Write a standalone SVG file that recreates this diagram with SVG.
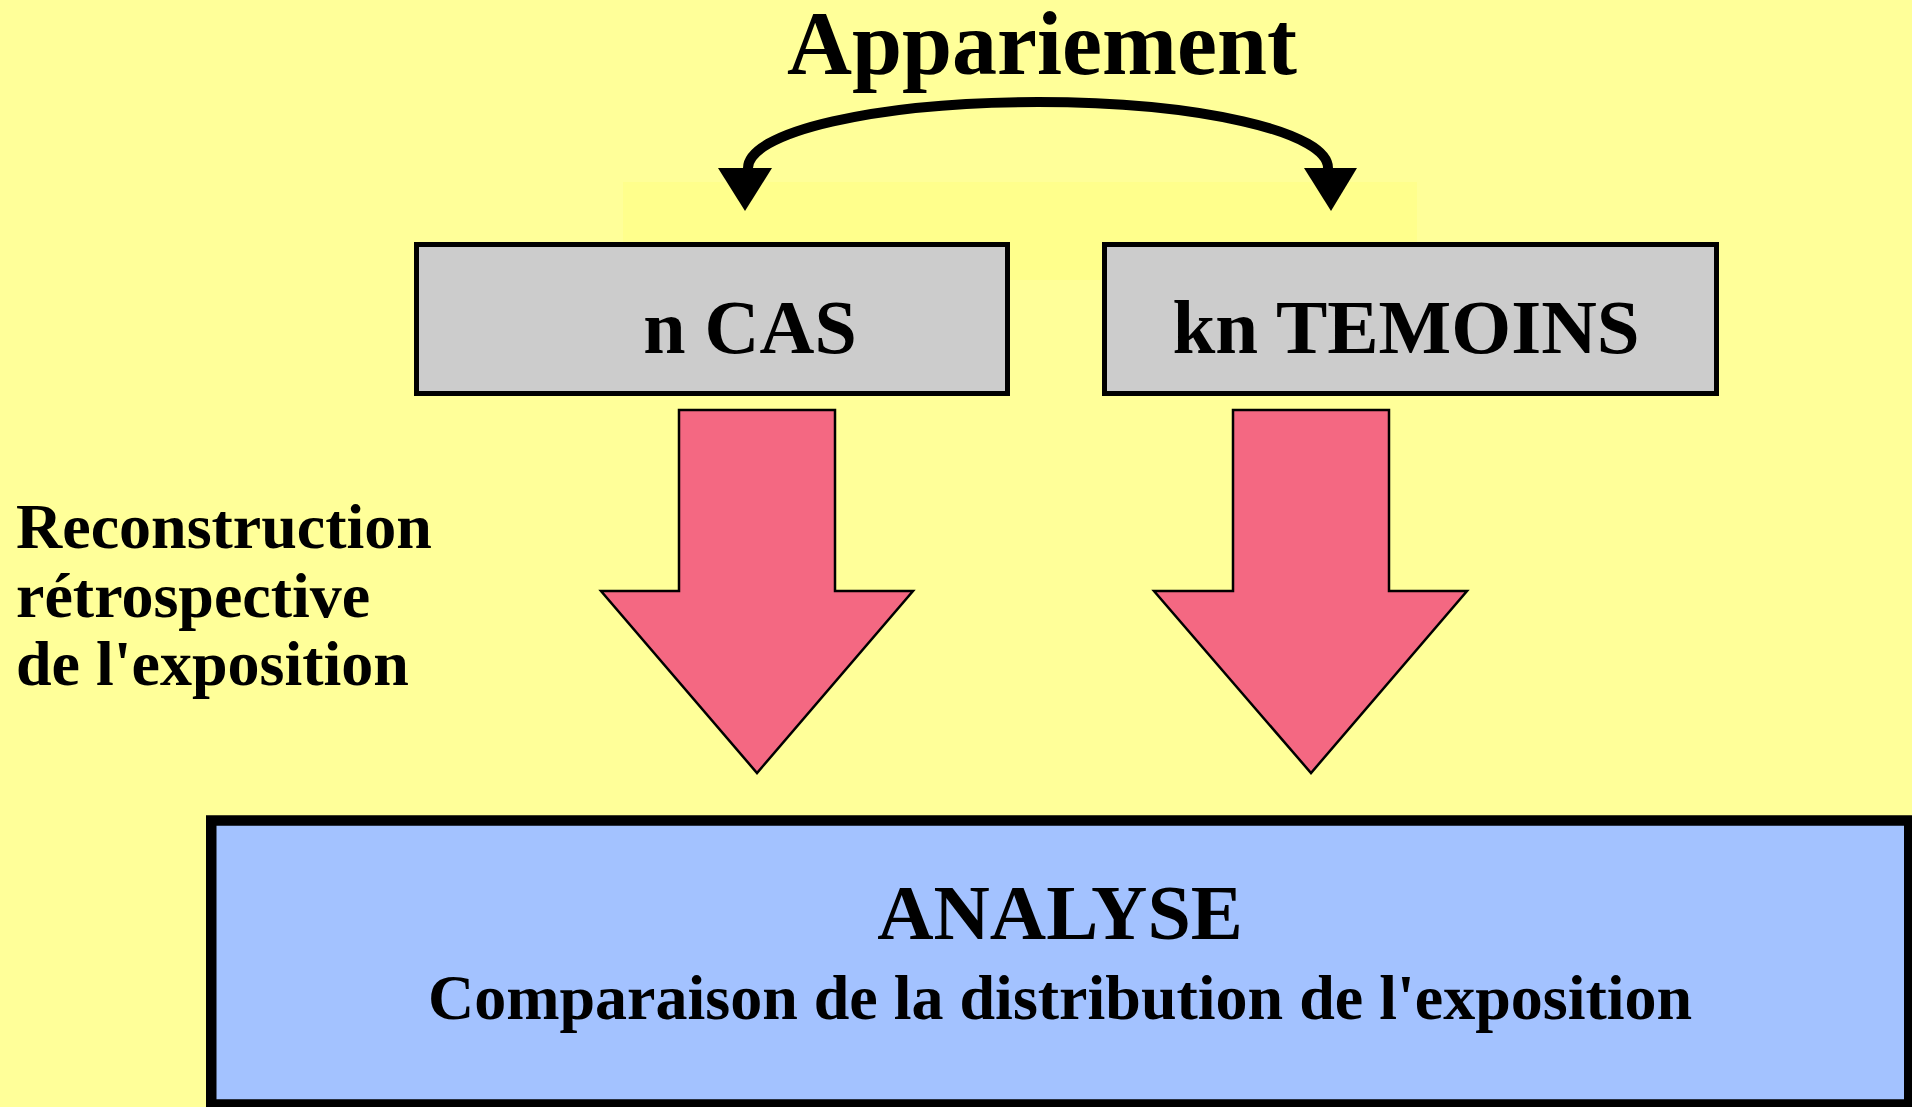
<svg xmlns="http://www.w3.org/2000/svg" width="1912" height="1107" viewBox="0 0 1912 1107">
  <style>
    text { font-family: "Liberation Serif", "Times New Roman", serif; font-weight: bold; fill: #000; }
    .group-box { fill: #CCCCCC; stroke: #000; stroke-width: 5; }
    .flow { fill: #F46882; stroke: #000; stroke-width: 2.5; stroke-linejoin: miter; }
    .head { fill: #000; stroke: none; }
  </style>

  <!-- background -->
  <rect x="0" y="0" width="1912" height="1107" fill="#FFFF99"/>
  <rect x="623" y="182" width="794" height="98" fill="#FFFF8C"/>

  <!-- title -->
  <text x="1042" y="74" font-size="90" text-anchor="middle">Appariement</text>

  <!-- matching link and downward flows -->
  <g id="connectors">
    <path d="M 748 168 A 290 66 0 0 1 1328 168" fill="none" stroke="#000" stroke-width="10"/>
    <polygon class="head" points="718,168 772,168 745,211"/>
    <polygon class="head" points="1304,168 1357,168 1331,211"/>
    <polygon class="flow" points="679,410 835,410 835,591 913,591 757,773 601,591 679,591"/>
    <polygon class="flow" points="1233,410 1389,410 1389,591 1467,591 1311,773 1154,591 1233,591"/>
  </g>

  <g id="cases">
    <rect class="group-box" x="416.5" y="244.5" width="591" height="149"/>
    <text x="750" y="353" font-size="76" text-anchor="middle">n CAS</text>
  </g>

  <g id="controls">
    <rect class="group-box" x="1104.5" y="244.5" width="612" height="149"/>
    <text x="1406" y="353" font-size="77" text-anchor="middle">kn TEMOINS</text>
  </g>

  <g id="reconstruction">
    <text x="16" y="548" font-size="64">Reconstruction</text>
    <text x="16" y="617" font-size="64">rétrospective</text>
    <text x="16" y="685" font-size="64">de l'exposition</text>
  </g>

  <g id="analysis">
    <rect x="211.25" y="820.5" width="1698" height="284" fill="#A3C2FF" stroke="#000" stroke-width="10.5"/>
    <text x="1060" y="939" font-size="78" text-anchor="middle">ANALYSE</text>
    <text x="1060" y="1019" font-size="64" text-anchor="middle">Comparaison de la distribution de l'exposition</text>
  </g>
</svg>
